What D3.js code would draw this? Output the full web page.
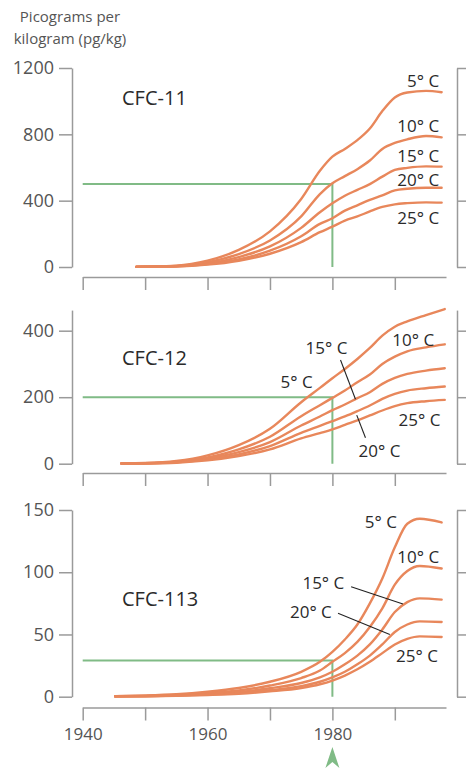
<!DOCTYPE html>
<html>
<head>
<meta charset="utf-8">
<script src="https://cdn.jsdelivr.net/npm/d3@7"></script>
<style>
  body { margin: 0; background: #fff; }
  text { font-family: "Open Sans", "Noto Sans", sans-serif; }
</style>
</head>
<body>
<script>
/*
 * Data
 */
const temps = ["5° C", "10° C", "15° C", "20° C", "25° C"];
const xTicks = [1940, 1950, 1960, 1970, 1980, 1990];

// CFC-11
const years11 = [1948.6, 1950, 1955, 1960, 1965, 1970, 1975, 1978, 1980, 1982, 1984, 1986, 1988, 1990, 1992, 1995, 1997.5];
const cfc11 = [
  [2, 3, 8, 38, 103, 215, 410, 580, 665, 712, 765, 835, 940, 1022, 1052, 1062, 1054],
  [1.5, 2, 6, 29, 78, 160, 305, 440, 505, 548, 590, 642, 712, 748, 770, 790, 782],
  [1, 1.5, 5, 22, 60, 124, 236, 330, 384, 430, 465, 500, 545, 585, 598, 607, 605],
  [1, 1.2, 4, 17, 46, 98, 185, 260, 294, 340, 372, 405, 432, 462, 472, 478, 478],
  [0.8, 1, 3, 14, 38, 80, 150, 210, 243, 280, 305, 335, 362, 378, 385, 390, 388]
];
const ticks11 = [0, 400, 800, 1200];
const labelVals11 = [1087, 816, 635, 490, 259];

// CFC-12
const years12 = [1946.2, 1950, 1955, 1960, 1965, 1970, 1975, 1978, 1980, 1982, 1984, 1986, 1988, 1990, 1992, 1995, 1998];
const cfc12 = [
  [1, 2, 8, 25, 56, 105, 185, 228, 257, 285, 315, 348, 385, 412, 428, 447, 465],
  [0.8, 1.5, 6, 19, 43, 81, 143, 176, 198, 220, 245, 268, 300, 322, 338, 350, 359],
  [0.6, 1.2, 5, 16, 35, 65, 115, 142, 161, 178, 197, 215, 240, 258, 270, 280, 287],
  [0.5, 1, 4, 13, 28, 53, 93, 114, 128, 142, 158, 175, 195, 210, 220, 227, 232],
  [0.4, 0.8, 3, 10, 23, 43, 76, 92, 103, 117, 130, 145, 160, 173, 182, 188, 192]
];
const ticks12 = [0, 200, 400];
const labelPos12 = [[1971.7, 228], [1989.6, 355], [1975.7, 330], [1984.2, 20], [1990.6, 113]];
const leaders12 = [[[1981.3, 312], [1983.7, 194]], [[1983.9, 146], [1985.3, 78]]];

// CFC-113
const years113 = [1945.2, 1950, 1955, 1960, 1965, 1970, 1975, 1978, 1980, 1982, 1984, 1986, 1988, 1990, 1992, 1994, 1997.5];
const cfc113 = [
  [0.5, 1, 2, 4, 7, 12, 20, 28, 36, 46, 58, 75, 95, 120, 139, 143, 140],
  [0.4, 0.7, 1.5, 3, 5, 9, 15, 21, 28, 35, 44, 56, 71, 90, 101, 105, 103],
  [0.3, 0.5, 1.1, 2.2, 3.8, 6.8, 11, 15.5, 20, 26, 33, 42, 54, 68, 76, 79, 78],
  [0.25, 0.4, 0.9, 1.7, 2.9, 5.2, 8.5, 12, 15.5, 20, 26, 33, 42, 52, 58, 60.5, 60],
  [0.2, 0.35, 0.7, 1.4, 2.4, 4.3, 7, 10, 13, 17, 22, 28, 35, 42, 46.5, 48.5, 48]
];
const ticks113 = [0, 50, 100, 150];
const labelPos113 = [[1985.2, 135.5], [1990.4, 107.4], [1975.2, 86.5], [1973.2, 63.2], [1990.2, 28.1]];
const leaders113 = [[[1983.0, 88.4], [1991.3, 74.5]], [[1980.9, 67], [1989.2, 50]]];

// the green 1980 marker, one value per panel
const markYear = 1980;
const markVals = [500, 200, 29];

/*
 * Layout
 */
const svgWidth = 466, svgHeight = 768;
const orange = "#e8875b", green = "#80bb86", axisGray = "#9a9a9a";

const svg = d3.select("body").append("svg")
  .attr("width", svgWidth)
  .attr("height", svgHeight);

const x = d3.scaleLinear().domain([1940, 1998.2]).range([82.7, 446]);

const panels = [
  { name: "CFC-11", years: years11, series: cfc11, ticks: ticks11, top: 1200,
    y: d3.scaleLinear().domain([0, 1200]).range([267, 68]), xAxisY: 277, titleY: 105 },
  { name: "CFC-12", years: years12, series: cfc12, ticks: ticks12, top: 462,
    y: d3.scaleLinear().domain([0, 400]).range([463.7, 330.7]), xAxisY: 473, titleY: 365 },
  { name: "CFC-113", years: years113, series: cfc113, ticks: ticks113, top: 150,
    y: d3.scaleLinear().domain([0, 150]).range([696.7, 510]), xAxisY: 707.5, titleY: 606 }
];

// y axis title
svg.append("text")
  .attr("x", 70).attr("y", 22)
  .attr("text-anchor", "middle")
  .style("font-size", "15px").style("fill", "#555")
  .text("Picograms per");
svg.append("text")
  .attr("x", 70).attr("y", 44)
  .attr("text-anchor", "middle")
  .style("font-size", "15px").style("fill", "#555")
  .text("kilogram (pg/kg)");

function styleAxis(g) {
  g.selectAll("path, line").attr("stroke", axisGray).attr("stroke-width", 1.5);
  g.selectAll("text").style("font-family", "'Open Sans', sans-serif").attr("fill", "#555");
}

panels.forEach((p, i) => {
  const y = p.y.copy().domain([0, p.top]).range([p.y(0), p.y(p.top)]);

  // left axis
  svg.append("g")
    .attr("transform", "translate(72,0)")
    .call(d3.axisLeft(y).tickValues(p.ticks).tickSizeInner(13).tickSizeOuter(0).tickPadding(5)
      .tickFormat(d3.format("d")))
    .call(styleAxis)
    .selectAll("text").style("font-size", "18px");

  // right axis (labels fall outside the frame)
  svg.append("g")
    .attr("transform", "translate(457,0)")
    .call(d3.axisRight(y).tickValues(p.ticks).tickSizeInner(12).tickSizeOuter(0).tickFormat(""))
    .call(styleAxis);

  // bottom axis, labels only on the last panel, every 20 years
  const xa = svg.append("g")
    .attr("transform", `translate(0,${p.xAxisY})`)
    .call(d3.axisBottom(x).tickValues(xTicks).tickSizeInner(13).tickSizeOuter(0).tickPadding(7)
      .tickFormat(d => (i === 2 && d % 20 === 0) ? d : ""))
    .call(styleAxis);
  xa.selectAll("text").style("font-size", "17px");

  // title
  svg.append("text")
    .attr("x", 122).attr("y", p.titleY)
    .style("font-size", "20px").style("fill", "#2a2a2a")
    .text(p.name);

  // green marker
  svg.append("path")
    .attr("d", d3.line()([[x(1940), y(markVals[i])], [x(markYear), y(markVals[i])], [x(markYear), y(0)]]))
    .attr("fill", "none").attr("stroke", green).attr("stroke-width", 2);

  // curves
  const line = d3.line()
    .x((d, j) => x(p.years[j]))
    .y(d => y(d))
    .curve(d3.curveMonotoneX);

  svg.append("g").selectAll("path")
    .data(p.series)
    .enter().append("path")
    .attr("d", line)
    .attr("fill", "none")
    .attr("stroke", orange)
    .attr("stroke-width", 2.4)
    .attr("stroke-linecap", "round");

  p.yScale = y;
});

// temperature labels
const labelStyle = sel => sel.style("font-size", "17px").style("fill", "#2a2a2a");

svg.append("g").selectAll("text")
  .data(labelVals11).enter().append("text")
  .attr("x", x(1997.1))
  .attr("y", d => panels[0].yScale(d))
  .attr("text-anchor", "end")
  .text((d, j) => temps[j])
  .call(labelStyle);

[[labelPos12, leaders12, panels[1]], [labelPos113, leaders113, panels[2]]].forEach(([pos, leaders, p]) => {
  svg.append("g").selectAll("text")
    .data(pos).enter().append("text")
    .attr("x", d => x(d[0]))
    .attr("y", d => p.yScale(d[1]))
    .text((d, j) => temps[j])
    .call(labelStyle);

  svg.append("g").selectAll("path")
    .data(leaders).enter().append("path")
    .attr("d", d => d3.line()(d.map(q => [x(q[0]), p.yScale(q[1])])))
    .attr("stroke", "#222").attr("stroke-width", 1.1).attr("fill", "none");
});

// arrow under 1980
const ax = x(markYear);
svg.append("path")
  .attr("d", `M${ax},747 L${ax - 7},768 L${ax},762 L${ax + 7},768 Z`)
  .attr("fill", green);
</script>
</body>
</html>
